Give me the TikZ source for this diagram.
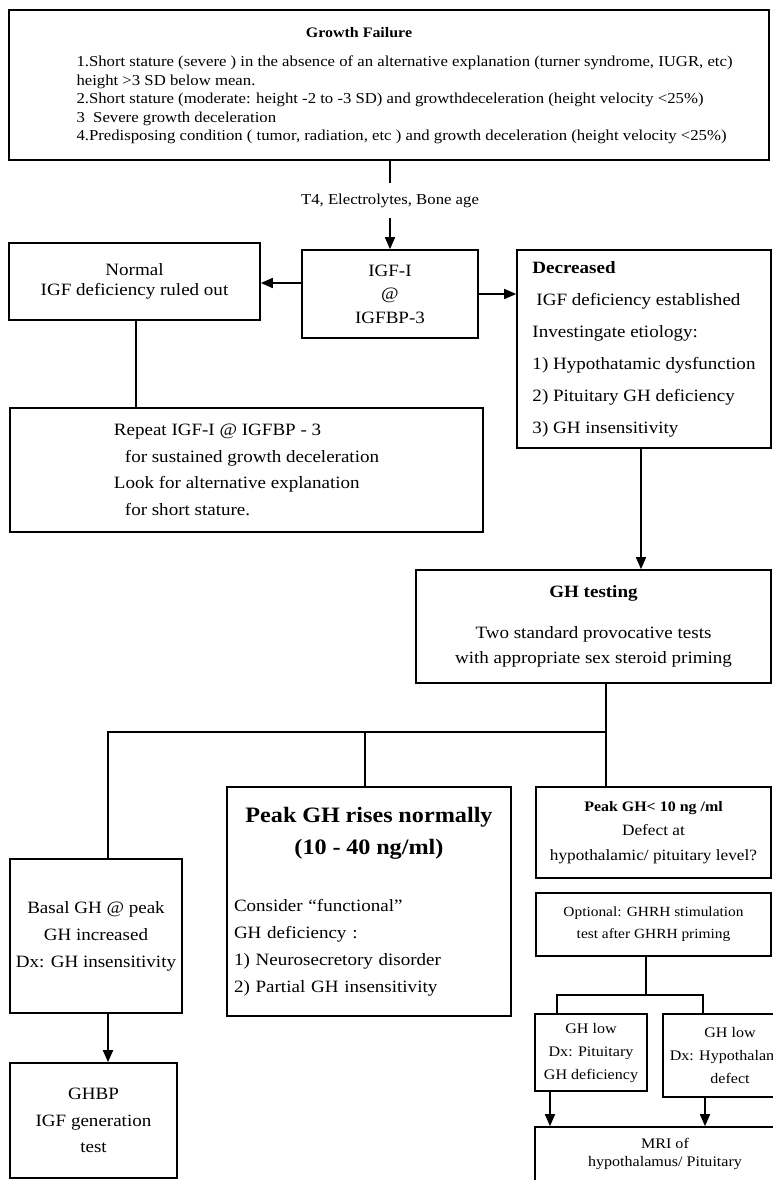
\documentclass[tikz,border=0pt]{standalone}
\usepackage{fontspec}
\setmainfont{Liberation Serif}[FakeStretch=1.1]
\usepackage{tikz}
\usetikzlibrary{arrows.meta}
\newcommand{\fsz}[2]{\fontsize{#1}{#2}\selectfont}

\begin{document}
\begin{tikzpicture}[x=1pt,y=-1pt,
  box/.style={draw,line width=1.6pt,inner sep=0pt},
  link/.style={line width=1.6pt},
  arr/.style={link,-{Triangle[length=12pt,width=10pt]}}]
\useasboundingbox (0,0) rectangle (773,1180);
% growth failure
\node[box,minimum width=760,minimum height=150] (gf) at (389,85) {};
\node[font=\fsz{14.5}{19}\bfseries] (gftitle) at (359,33) {Growth Failure};
\node[font=\fsz{15.2}{18.5},align=left,anchor=west] (gflist) at (73,100) {1.Short stature (severe ) in the absence of an alternative explanation (turner syndrome, IUGR, etc)\\height >3 SD below mean.\\2.Short stature (moderate: height -2 to -3 SD) and growthdeceleration (height velocity <25\%)\\3\ \ Severe growth deceleration\\4.Predisposing condition ( tumor, radiation, etc ) and growth deceleration (height velocity <25\%)};
\node[font=\fsz{15.2}{17},minimum height=35,inner sep=0pt] (labs) at (390,200.5) {T4, Electrolytes, Bone age};
% IGF level
\node[box,minimum width=251,minimum height=77,align=center,font=\fsz{17.3}{20}] (normal) at (134.5,281.5) {Normal\\IGF deficiency ruled out};
\node[box,minimum width=176,minimum height=88,align=center,font=\fsz{17.3}{23.5}] (igf) at (390,294) {IGF-I\\@\\IGFBP-3};
\node[box,minimum width=254,minimum height=198,align=left,font=\fsz{17.3}{32}] (dec) at (644,349) {\textbf{Decreased}\\\hspace*{4pt}IGF deficiency established\\Investingate etiology:\\1) Hypothatamic dysfunction\\2) Pituitary GH deficiency\\3) GH insensitivity};
\node[box,minimum width=473,minimum height=124,align=left,font=\fsz{17.3}{26.7}] (rep) at (246.5,470) {Repeat IGF-I @ IGFBP - 3\\\hspace*{11pt}for sustained growth deceleration\\Look for alternative explanation\\\hspace*{11pt}for short stature.};
% GH testing
\node[box,minimum width=355,minimum height=113,align=center,font=\fsz{17.3}{25}] (gh) at (593.5,626.5) {\textbf{GH testing}\\[16pt]Two standard provocative tests\\with appropriate sex steroid priming};
\node[box,minimum width=172,minimum height=154,align=center,font=\fsz{17.3}{27}] (basal) at (96,936) {Basal GH @ peak\\GH increased\\Dx: GH insensitivity};
\node[box,minimum width=167,minimum height=115,align=center,font=\fsz{17.3}{26.5}] (ghbp) at (93.5,1120.5) {GHBP\\IGF generation\\test};
\node[box,minimum width=284,minimum height=229,text width=270,align=left,font=\fsz{17.3}{27}] (peak) at (369,901.5) {\makebox[270pt]{\fsz{22}{27}\bfseries Peak GH rises normally}\\[5pt]\makebox[270pt]{\fsz{22}{27}\bfseries (10 - 40 ng/ml)}\\[30pt]Consider ``functional''\\GH deficiency :\\1) Neurosecretory disorder\\2) Partial GH insensitivity};
\node[box,minimum width=235,minimum height=91,align=center,font=\fsz{15.7}{24.5}] (low) at (653.5,832.5) {{\fsz{14.5}{24.5}\bfseries Peak GH< 10 ng /ml}\\Defect at\\hypothalamic/ pituitary level?};
\node[box,minimum width=235,minimum height=63,align=center,font=\fsz{14}{22}] (opt) at (653.5,924.5) {Optional: GHRH stimulation\\test after GHRH priming};
\node[box,minimum width=112,minimum height=77,align=center,font=\fsz{14.6}{23}] (pit) at (591,1052.5) {GH low\\Dx: Pituitary\\GH deficiency};
\node[box,minimum width=134,minimum height=83,align=center,font=\fsz{14.6}{23}] (hyp) at (730,1055.5) {GH low\\Dx: Hypothalamic\\defect};
\node[box,minimum width=260,minimum height=54,align=center,font=\fsz{14.6}{18}] (mri) at (665,1154) {MRI of\\hypothalamus/ Pituitary};
% forks
\coordinate (fork) at (606,732);
\coordinate (forkL) at (108,732);
\coordinate (forkM) at (365,732);
\coordinate (fork2) at (646,995);
\coordinate (fork2L) at (557,995);
\coordinate (fork2R) at (703,995);
% connectors
\draw[link] (gf.south -| labs) -- (labs.north);
\draw[arr] (labs.south) -- (igf.north);
\draw[arr] ([yshift=11pt]igf.west) -- ([yshift=11pt]igf.west -| normal.east);
\draw[arr] (igf.east) -- (igf.east -| dec.west);
\draw[link] ([xshift=1.5pt]normal.south) -- ([xshift=1.5pt]normal.south |- rep.north);
\draw[arr] ([xshift=-3pt]dec.south) -- ([xshift=-3pt]dec.south |- gh.north);
\draw[link] (gh.south -| fork) -- (fork) -- (forkL) -- (forkL |- basal.north);
\draw[link] (forkM) -- (forkM |- peak.north);
\draw[link] (fork) -- (fork |- low.north);
\draw[arr] (basal.south -| forkL) -- (forkL |- ghbp.north);
\draw[link] (opt.south -| fork2) -- (fork2);
\draw[link] (fork2L |- pit.north) -- (fork2L) -- (fork2R) -- (fork2R |- hyp.north);
\draw[arr] ([xshift=-41pt]pit.south) -- ([xshift=-41pt]pit.south |- mri.north);
\draw[arr] ([xshift=-25pt]hyp.south) -- ([xshift=-25pt]hyp.south |- mri.north);
\end{tikzpicture}
\end{document}
